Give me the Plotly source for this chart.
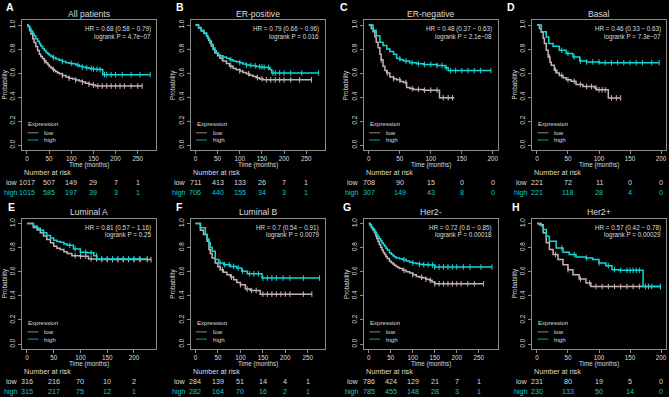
import plotly.graph_objects as go

# ---------------- data ----------------
titles = ["All patients", "ER-positive", "ER-negative", "Basal",
          "Luminal A", "Luminal B", "Her2-", "Her2+"]
letters = ["A", "B", "C", "D", "E", "F", "G", "H"]
hr_text = ["HR = 0.68 (0.58 \u2212 0.79)", "HR = 0.79 (0.66 \u2212 0.96)",
           "HR = 0.48 (0.37 \u2212 0.63)", "HR = 0.46 (0.33 \u2212 0.63)",
           "HR = 0.81 (0.57 \u2212 1.16)", "HR = 0.7 (0.54 \u2212 0.91)",
           "HR = 0.72 (0.6 \u2212 0.85)", "HR = 0.57 (0.42 \u2212 0.78)"]
p_text = ["logrank P = 4.7e\u221207", "logrank P = 0.016", "logrank P = 2.1e\u221208",
          "logrank P = 7.3e\u221207", "logrank P = 0.25", "logrank P = 0.0079",
          "logrank P = 0.00018", "logrank P = 0.00029"]
t_max = [280, 280, 200, 200, 232, 276, 282, 200]
x_ticks = [[0, 50, 100, 150, 200, 250], [0, 50, 100, 150, 200, 250],
           [0, 50, 100, 150, 200], [0, 50, 100, 150, 200],
           [0, 50, 100, 150, 200], [0, 50, 100, 150, 200, 250],
           [0, 50, 100, 150, 200, 250], [0, 50, 100, 150, 200]]
risk_low = [[1017, 507, 149, 29, 7, 1], [711, 413, 133, 26, 7, 1],
            [708, 90, 15, 0, 0], [221, 72, 11, 0, 0],
            [316, 216, 70, 10, 2], [284, 139, 51, 14, 4, 1],
            [786, 424, 129, 21, 7, 1], [231, 80, 19, 5, 0]]
risk_high = [[1015, 585, 197, 39, 3, 1], [706, 440, 155, 34, 3, 1],
             [307, 149, 43, 8, 0], [221, 118, 28, 4, 0],
             [315, 217, 75, 12, 1], [282, 164, 70, 16, 2, 1],
             [785, 455, 148, 28, 3, 1], [230, 133, 50, 14, 0]]

A_low_t = [0, 3, 6, 9, 13, 16, 20, 24, 28, 31, 35, 39, 43, 47, 50, 54, 58, 62, 65, 69, 73, 80, 88, 95, 103, 110, 118, 125, 132, 140, 147, 155, 260]
A_low_s = [1.0, 0.985, 0.955, 0.925, 0.886, 0.855, 0.82, 0.787, 0.757, 0.738, 0.72, 0.702, 0.686, 0.67, 0.655, 0.642, 0.629, 0.62, 0.61, 0.602, 0.594, 0.58, 0.566, 0.557, 0.549, 0.541, 0.534, 0.524, 0.514, 0.507, 0.5, 0.491, 0.491]
A_low_c = [40, 60, 80, 95, 110, 125, 140, 150, 160, 170, 180, 190, 200, 210, 220, 235, 250, 260]
A_high_t = [0, 3, 6, 9, 13, 16, 20, 24, 28, 31, 35, 39, 43, 47, 50, 54, 58, 65, 73, 80, 88, 95, 103, 110, 118, 125, 132, 140, 147, 155, 162, 171, 278]
A_high_s = [1.0, 0.99, 0.97, 0.95, 0.929, 0.908, 0.885, 0.864, 0.843, 0.824, 0.805, 0.788, 0.771, 0.76, 0.75, 0.74, 0.729, 0.717, 0.706, 0.696, 0.686, 0.681, 0.677, 0.667, 0.657, 0.65, 0.643, 0.638, 0.634, 0.631, 0.629, 0.586, 0.586]
A_high_c = [60, 80, 100, 115, 125, 135, 145, 150, 158, 165, 175, 180, 190, 200, 215, 235, 255, 278]

B_low_t = [0, 7, 13, 19, 25, 28, 30, 33, 36, 40, 44, 50, 55, 62, 70, 77, 85, 92, 100, 107, 115, 122, 130, 137, 145, 153, 262]
B_low_s = [1.0, 0.975, 0.951, 0.93, 0.909, 0.89, 0.87, 0.845, 0.823, 0.795, 0.766, 0.743, 0.723, 0.70, 0.68, 0.657, 0.637, 0.627, 0.617, 0.605, 0.594, 0.582, 0.571, 0.561, 0.551, 0.543, 0.543]
B_low_c = [60, 80, 100, 120, 140, 150, 160, 170, 180, 190, 200, 215, 235, 262]
B_high_t = [0, 7, 13, 19, 25, 28, 32, 36, 40, 44, 47, 51, 55, 62, 70, 77, 85, 92, 100, 107, 115, 122, 130, 137, 145, 152, 160, 168, 172, 278]
B_high_s = [1.0, 0.98, 0.957, 0.933, 0.909, 0.888, 0.866, 0.838, 0.809, 0.785, 0.766, 0.754, 0.743, 0.733, 0.723, 0.711, 0.70, 0.693, 0.686, 0.676, 0.666, 0.663, 0.66, 0.655, 0.651, 0.648, 0.646, 0.63, 0.60, 0.60]
B_high_c = [80, 100, 115, 125, 135, 145, 150, 155, 165, 175, 180, 190, 200, 215, 240, 278]

C_low_t = [0, 4, 7, 10, 12, 15, 18, 20, 23, 26, 29, 34, 40, 45, 51, 56, 61, 66, 72, 88, 114, 138]
C_low_s = [1.0, 0.97, 0.943, 0.9, 0.857, 0.81, 0.757, 0.71, 0.657, 0.62, 0.6, 0.566, 0.553, 0.543, 0.53, 0.52, 0.48, 0.47, 0.463, 0.457, 0.394, 0.394]
C_low_c = [20, 30, 40, 50, 60, 70, 80, 90, 100, 110, 120, 128, 135]
C_high_t = [0, 7, 12, 18, 23, 29, 34, 40, 45, 51, 56, 66, 77, 88, 110, 123, 128, 197]
C_high_s = [1.0, 0.957, 0.91, 0.857, 0.83, 0.80, 0.78, 0.757, 0.72, 0.71, 0.70, 0.686, 0.677, 0.671, 0.663, 0.643, 0.62, 0.62]
C_high_c = [50, 60, 70, 80, 90, 100, 110, 118, 125, 132, 140, 150, 160, 170, 180, 197]

D_low_t = [0, 4, 7, 10, 12, 15, 18, 21, 23, 28, 32, 36, 42, 47, 55, 63, 74, 93, 96, 115, 135]
D_low_s = [1.0, 0.97, 0.94, 0.89, 0.846, 0.79, 0.734, 0.69, 0.664, 0.622, 0.60, 0.58, 0.56, 0.543, 0.532, 0.504, 0.487, 0.476, 0.46, 0.392, 0.392]
D_low_c = [20, 30, 40, 50, 60, 70, 80, 88, 95, 100, 105, 110, 120, 128, 135]
D_high_t = [0, 7, 15, 19, 26, 36, 47, 58, 69, 80, 101, 197]
D_high_s = [1.0, 0.944, 0.90, 0.846, 0.823, 0.79, 0.762, 0.734, 0.70, 0.692, 0.686, 0.686]
D_high_c = [40, 50, 60, 70, 80, 90, 100, 110, 120, 130, 140, 150, 160, 170, 185, 197]

E_low_t = [0, 12, 19, 25, 31, 37, 44, 50, 56, 62, 69, 75, 84, 100, 115, 131, 232]
E_low_s = [1.0, 0.967, 0.945, 0.922, 0.895, 0.867, 0.84, 0.811, 0.795, 0.783, 0.765, 0.75, 0.733, 0.728, 0.706, 0.70, 0.70]
E_low_c = [90, 100, 110, 120, 130, 140, 150, 160, 170, 180, 190, 200, 212, 225, 232]
E_high_t = [0, 12, 19, 25, 31, 37, 44, 50, 56, 62, 69, 75, 87, 100, 112, 125, 131, 225]
E_high_s = [1.0, 0.978, 0.96, 0.944, 0.922, 0.9, 0.88, 0.861, 0.85, 0.844, 0.83, 0.819, 0.789, 0.761, 0.756, 0.733, 0.706, 0.706]
E_high_c = [80, 90, 100, 110, 120, 130, 140, 150, 160, 170, 180, 190, 200, 210, 225]

F_low_t = [0, 11, 18, 26, 30, 33, 37, 44, 50, 55, 62, 70, 78, 85, 92, 100, 111, 122, 144, 259]
F_low_s = [1.0, 0.944, 0.908, 0.853, 0.783, 0.75, 0.714, 0.672, 0.64, 0.617, 0.595, 0.575, 0.555, 0.533, 0.51, 0.492, 0.456, 0.444, 0.414, 0.414]
F_low_c = [60, 80, 100, 115, 125, 135, 150, 160, 170, 180, 190, 200, 210, 240, 259]
F_high_t = [0, 11, 22, 26, 30, 33, 37, 44, 52, 63, 78, 92, 103, 115, 148, 276]
F_high_s = [1.0, 0.964, 0.908, 0.87, 0.839, 0.80, 0.769, 0.70, 0.672, 0.658, 0.644, 0.631, 0.603, 0.583, 0.547, 0.547]
F_high_c = [55, 65, 75, 85, 95, 105, 120, 130, 140, 150, 160, 170, 180, 195, 210, 240, 276]

G_low_t = [0, 3, 6, 9, 13, 16, 18, 21, 24, 27, 30, 33, 36, 39, 42, 47, 51, 55, 58, 62, 66, 70, 77, 85, 93, 100, 108, 115, 123, 130, 138, 144, 150, 261]
G_low_s = [1.0, 0.985, 0.965, 0.945, 0.922, 0.897, 0.875, 0.85, 0.825, 0.802, 0.78, 0.76, 0.742, 0.726, 0.71, 0.686, 0.675, 0.663, 0.653, 0.644, 0.635, 0.626, 0.611, 0.60, 0.589, 0.575, 0.561, 0.554, 0.547, 0.538, 0.528, 0.515, 0.50, 0.50]
G_low_c = [80, 100, 120, 130, 140, 150, 160, 170, 180, 190, 200, 210, 225, 240, 261]
G_high_t = [0, 3, 6, 9, 13, 16, 18, 21, 24, 27, 30, 33, 36, 39, 42, 47, 51, 55, 58, 62, 70, 77, 85, 93, 100, 108, 115, 123, 137, 150, 280]
G_high_s = [1.0, 0.988, 0.97, 0.953, 0.936, 0.92, 0.905, 0.888, 0.872, 0.856, 0.84, 0.825, 0.811, 0.795, 0.78, 0.756, 0.745, 0.733, 0.723, 0.714, 0.707, 0.70, 0.689, 0.678, 0.672, 0.667, 0.662, 0.658, 0.655, 0.639, 0.639]
G_high_c = [80, 100, 115, 125, 135, 145, 150, 160, 170, 180, 190, 200, 215, 230, 255, 280]

H_low_t = [0, 4, 10, 15, 20, 26, 34, 42, 50, 58, 68, 79, 87, 199]
H_low_s = [1.0, 0.99, 0.922, 0.839, 0.783, 0.742, 0.70, 0.658, 0.617, 0.575, 0.539, 0.506, 0.477, 0.477]
H_low_c = [30, 50, 70, 85, 95, 105, 115, 125, 135, 145, 155, 165, 180, 199]
H_high_t = [0, 7, 10, 15, 20, 31, 42, 52, 63, 79, 90, 100, 111, 121, 132, 171, 199]
H_high_s = [1.0, 0.98, 0.95, 0.894, 0.853, 0.797, 0.761, 0.742, 0.722, 0.714, 0.70, 0.672, 0.65, 0.617, 0.611, 0.477, 0.477]
H_high_c = [40, 60, 80, 100, 115, 125, 135, 145, 150, 155, 160, 165, 175, 185, 199]

curves_low = [(A_low_t, A_low_s, A_low_c), (B_low_t, B_low_s, B_low_c), (C_low_t, C_low_s, C_low_c),
              (D_low_t, D_low_s, D_low_c), (E_low_t, E_low_s, E_low_c), (F_low_t, F_low_s, F_low_c),
              (G_low_t, G_low_s, G_low_c), (H_low_t, H_low_s, H_low_c)]
curves_high = [(A_high_t, A_high_s, A_high_c), (B_high_t, B_high_s, B_high_c), (C_high_t, C_high_s, C_high_c),
               (D_high_t, D_high_s, D_high_c), (E_high_t, E_high_s, E_high_c), (F_high_t, F_high_s, F_high_c),
               (G_high_t, G_high_s, G_high_c), (H_high_t, H_high_s, H_high_c)]

# ---------------- layout / style ----------------
W, H = 669, 397
BG = "black"
TXT = "#dcdcdc"
AXC = "#8c8c8c"
LOW_C = "#c6b2b2"
HIGH_C = "#1ad4d4"
LOW_LEG = "#8f8585"
HIGH_LEG = "#00a3a3"
RISK_HIGH = "#10c8c8"
FONT = "Liberation Sans, Arial, sans-serif"

col_left = [22, 190.5, 363.8, 532]
box_w = 134
row_top = [20.2, 218.6]
row_bot = [149.8, 348.9]
letter_x = [[4, 174, 338, 505], [6, 174, 341, 510]]
letter_y = [7, 207]


def px(x):
    return x / W


def py(y):
    return 1 - y / H


def step_at(ts, ss, c):
    val = ss[0]
    for t, s in zip(ts, ss):
        if t <= c:
            val = s
    return val


fig = go.Figure()
ann = []
shapes = []

for i in range(8):
    r, k = divmod(i, 4)
    n = i + 1
    xa = "x" if n == 1 else f"x{n}"
    ya = "y" if n == 1 else f"y{n}"
    left = col_left[k]
    right = left + box_w
    top, bot = row_top[r], row_bot[r]
    cx = (left + right) / 2

    for (ts, ss, cs), col in ((curves_low[i], LOW_C), (curves_high[i], HIGH_C)):
        fig.add_trace(go.Scatter(x=ts, y=ss, mode="lines", line=dict(color=col, width=1.5, shape="hv"),
                                 xaxis=xa, yaxis=ya, showlegend=False, hoverinfo="skip"))
        fig.add_trace(go.Scatter(x=cs, y=[step_at(ts, ss, c) for c in cs], mode="markers",
                                 marker=dict(symbol="line-ns-open", size=4, color=col,
                                             line=dict(color=col, width=1)),
                                 xaxis=xa, yaxis=ya, showlegend=False, hoverinfo="skip"))

    tm = t_max[i]
    fig.layout[f"xaxis{'' if n == 1 else n}"] = dict(
        domain=[px(left), px(right)], range=[-0.04 * tm, 1.04 * tm], anchor=ya,
        showline=True, mirror=True, linecolor=AXC, linewidth=1, showgrid=False, zeroline=False,
        ticks="outside", ticklen=3, tickcolor=AXC, tickwidth=1, tickvals=x_ticks[i],
        tickfont=dict(family=FONT, size=6.3, color=TXT), fixedrange=True)
    fig.layout[f"yaxis{'' if n == 1 else n}"] = dict(
        domain=[py(bot), py(top)], range=[-0.04, 1.04], anchor=xa,
        showline=True, mirror=True, linecolor=AXC, linewidth=1, showgrid=False, zeroline=False,
        ticks="outside", ticklen=3, tickcolor=AXC, tickwidth=1,
        tickvals=[0, 0.2, 0.4, 0.6, 0.8, 1.0], ticktext=["0.0", "0.2", "0.4", "0.6", "0.8", "1.0"],
        tickangle=-90, tickfont=dict(family=FONT, size=6.3, color=TXT), fixedrange=True)

    def add(text, x, y, size, color=TXT, xanchor="center", bold=False, angle=0, xref="paper"):
        ann.append(dict(text=f"<b>{text}</b>" if bold else text, x=x, y=y, xref=xref, yref="paper",
                        xanchor=xanchor, yanchor="middle", showarrow=False, textangle=angle,
                        font=dict(family=FONT, size=size, color=color)))

    add(letters[i], px(letter_x[r][k]), py(letter_y[r]), 10.5, color="white", xanchor="left", bold=True)
    add(titles[i], px(cx), py(top - 6.5), 8.6)
    add(hr_text[i], px(right - 3.5), py(top + 9), 6.3, xanchor="right")
    add(p_text[i], px(right - 3.5), py(top + 16.6), 6.3, xanchor="right")
    add("Probability", px(left - 17.5), py((top + bot) / 2), 6.3, angle=-90)
    add("Time (months)", px(cx), py(bot + 14.7), 6.3)
    # legend
    add("Expression", px(left + 4), py(bot - 26.8), 6.1, xanchor="left")
    add("low", px(left + 20), py(bot - 17), 6.1, xanchor="left")
    add("high", px(left + 20), py(bot - 9.8), 6.1, xanchor="left")
    for yy, lc in ((bot - 17, LOW_LEG), (bot - 9.8, HIGH_LEG)):
        shapes.append(dict(type="line", xref="paper", yref="paper", x0=px(left + 5.5), x1=px(left + 16.5),
                           y0=py(yy), y1=py(yy), line=dict(color=lc, width=1)))
    # number at risk
    add("Number at risk", px(left), py(bot + 23), 7.2, xanchor="left")
    add("low", px(left - 2.5), py(bot + 33), 7.2, xanchor="right")
    add("high", px(left - 2.5), py(bot + 42.6), 7.2, color=RISK_HIGH, xanchor="right")
    for tv, lv, hv in zip(x_ticks[i], risk_low[i], risk_high[i]):
        add(str(lv), tv, py(bot + 33), 7.2, xref=xa)
        add(str(hv), tv, py(bot + 42.6), 7.2, color=RISK_HIGH, xref=xa)

fig.update_layout(width=W, height=H, autosize=False, margin=dict(l=0, r=0, t=0, b=0),
                  paper_bgcolor=BG, plot_bgcolor=BG, annotations=ann, shapes=shapes, showlegend=False)
fig.write_html("out.html")
